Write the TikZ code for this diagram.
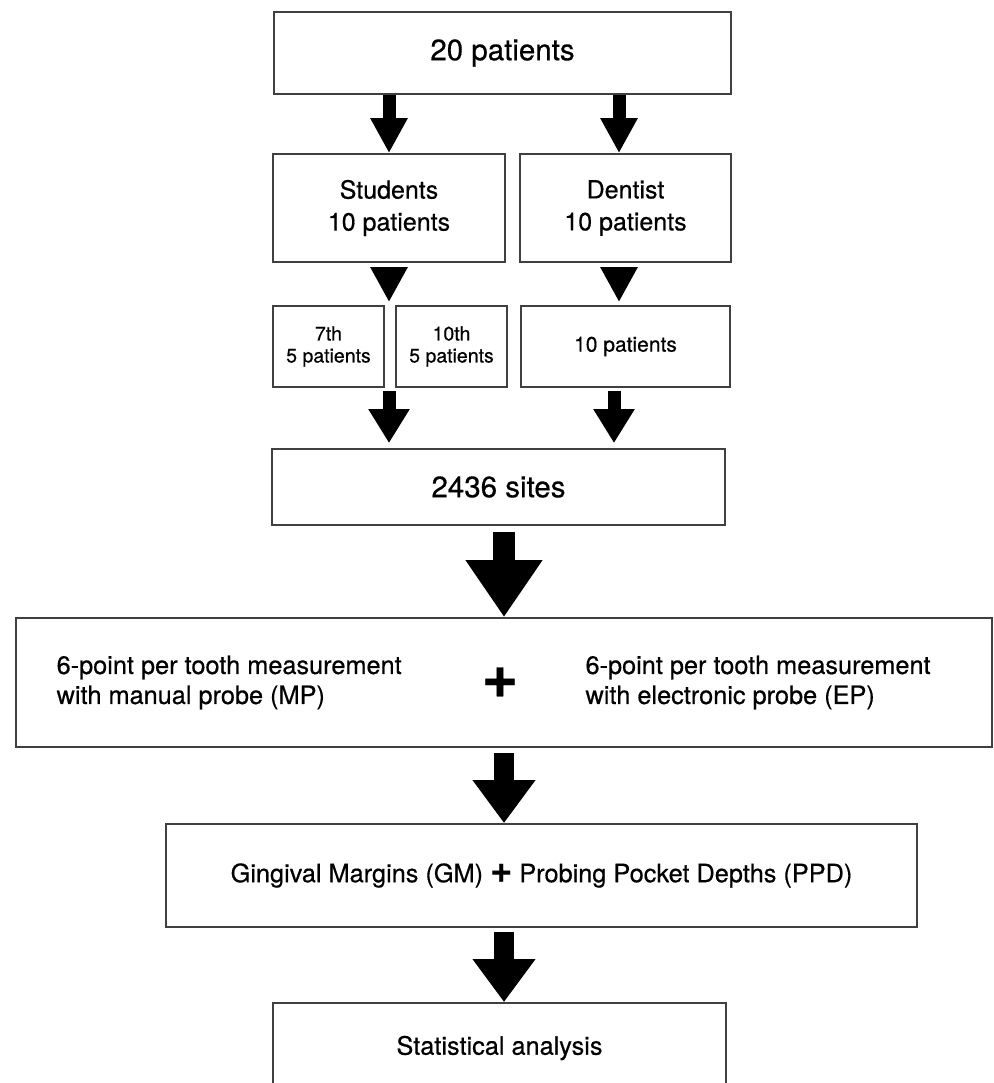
\documentclass[tikz,border=0pt]{standalone}
\usepackage{fontspec}
\setmainfont{TeX Gyre Heros}[FakeBold=0.5]
\usetikzlibrary{arrows.meta}

\newcommand{\titre}{\fontsize{29.5}{34}\selectfont}
\newcommand{\texte}{\fontsize{25.3}{30}\selectfont}
\newcommand{\moyen}{\fontsize{25}{32}\selectfont}
\newcommand{\petit}{\fontsize{19.5}{22}\selectfont}
\newcommand{\signe}[1]{{\fontsize{#1}{#1}\selectfont\bfseries +}}

\begin{document}
\begin{tikzpicture}[x=1pt,y=-1pt]
\tikzstyle{boite}=[rectangle, draw=black!75, line width=1.8pt, inner sep=0pt, align=center]
\tikzstyle{fleche}=[line width=13pt, -{Triangle[width=35pt,length=35pt]}]
\tikzstyle{fleche large}=[line width=13pt, -{Triangle[width=39pt,length=34pt]}]
\tikzstyle{grosse fleche}=[line width=22pt, -{Triangle[width=73pt,length=57pt]}]
\tikzstyle{fleche basse}=[line width=20pt, -{Triangle[width=60pt,length=43pt]}]
\useasboundingbox (0,0) rectangle (993,1083);
\fill[white] (0,0) rectangle (993,1083);
\node[boite, minimum width=457pt, minimum height=82pt, font=\titre] (tot) at (502.5,53) {20 patients};
\node[boite, minimum width=232pt, minimum height=108pt, font=\moyen] (etu) at (389,208) {Students\\10 patients};
\node[boite, minimum width=211pt, minimum height=108pt, font=\moyen] (den) at (625.5,208) {Dentist\\10 patients};
\node[boite, minimum width=111pt, minimum height=81pt, font=\petit] (e7) at (328.5,346.5) {7th\\5 patients};
\node[boite, minimum width=111pt, minimum height=81pt, font=\petit] (e10) at (451.5,346.5) {10th\\5 patients};
\node[boite, minimum width=209pt, minimum height=81pt, font=\fontsize{21}{24}\selectfont] (d10) at (625.5,346.5) {10 patients};
\node[boite, minimum width=453pt, minimum height=76pt, font=\titre] (sites) at (498.5,487) {2436 sites};
\node[boite, minimum width=976pt, minimum height=129pt] (mes) at (504,682.5) {};
\node[anchor=west, align=left, font=\texte] (mp) at ([xshift=38pt]mes.west) {6-point per tooth measurement\\with manual probe (MP)};
\node (plus) at ([xshift=-4pt]mes.center) {\signe{62}};
\node[anchor=west, align=left, font=\texte] (ep) at ([xshift=78pt]mes.center) {6-point per tooth measurement\\with electronic probe (EP)};
\node[boite, minimum width=751pt, minimum height=103pt, font=\texte] (gm) at (541.5,875.5) {Gingival Margins (GM) \signe{38} Probing Pocket Depths (PPD)};
\node[boite, minimum width=453pt, minimum height=90pt, font=\texte] (stat) at (499.5,1048) {Statistical analysis};
\coordinate (c1) at ([xshift=-6.5pt]den.north);
\coordinate (c2) at ([xshift=-11.5pt]d10.south);
\draw[fleche] (tot.south -| etu.north) -- (etu.north);
\draw[fleche] (tot.south -| c1) -- (c1);
\draw[fleche, shorten <=4pt, shorten >=3pt] (etu.south) -- (etu.south |- e7.north);
\draw[fleche, shorten <=4pt, shorten >=3pt] (c1 |- den.south) -- (c1 |- d10.north);
\draw[fleche large, shorten <=3pt, shorten >=5pt] (etu.south |- e7.south) -- (etu.south |- sites.north);
\draw[fleche large, shorten <=3pt, shorten >=5pt] (c2) -- (c2 |- sites.north);
\draw[grosse fleche, shorten <=6pt] (sites.south -| mes.north) -- (mes.north);
\draw[fleche basse, shorten <=5pt] (mes.south) -- (mes.south |- gm.north);
\draw[fleche basse, shorten <=4pt] (gm.south -| mes.south) -- (stat.north -| mes.south);
\end{tikzpicture}
\end{document}
